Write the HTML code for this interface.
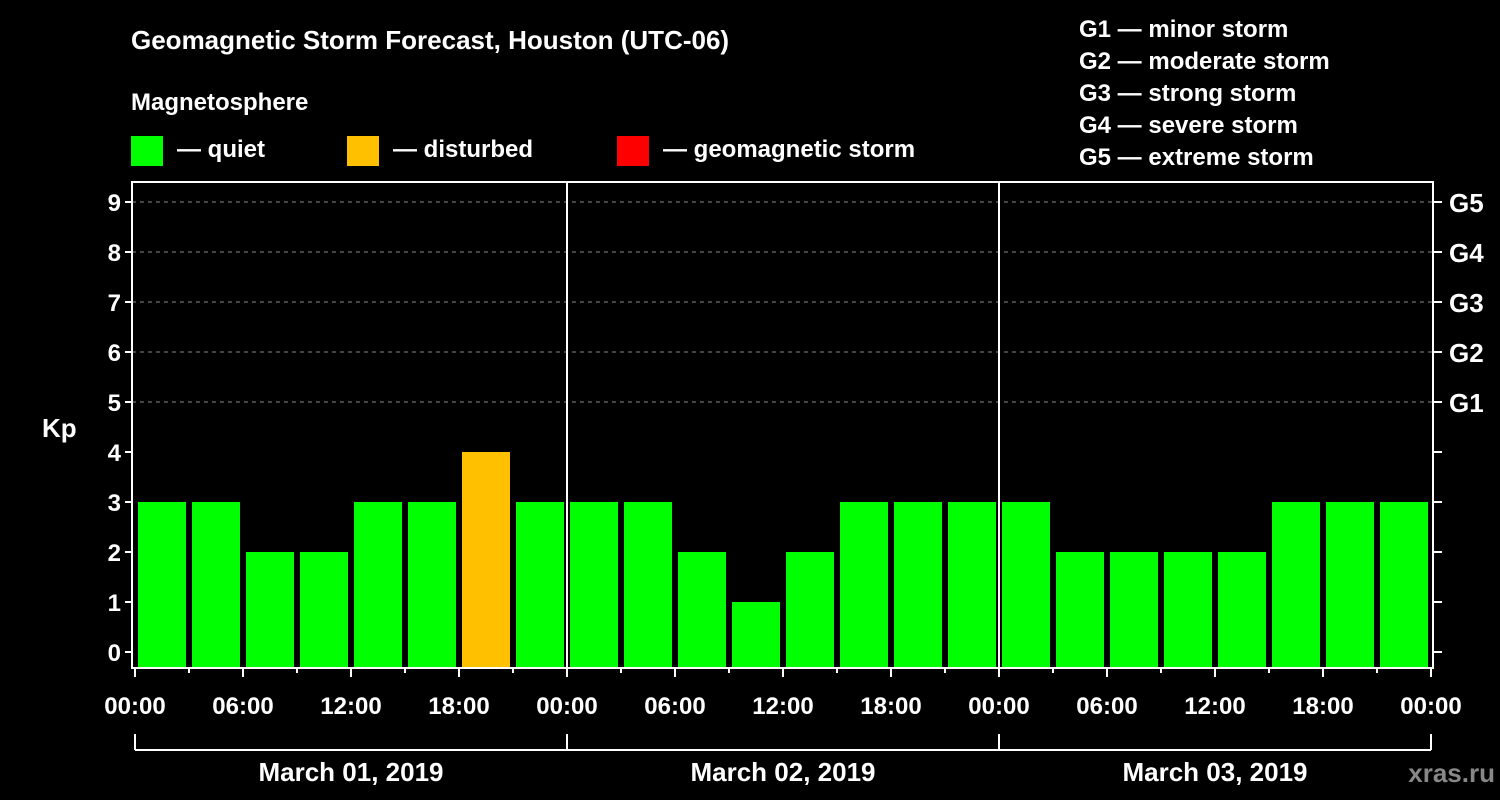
<!DOCTYPE html>
<html><head><meta charset="utf-8"><style>
body{margin:0;background:#000;width:1500px;height:800px;overflow:hidden}
svg{display:block;font-family:"Liberation Sans",Arial,sans-serif;font-weight:bold;fill:#fff}
</style></head><body>
<svg id="c" width="1500" height="800" viewBox="0 0 1500 800">
<rect width="1500" height="800" fill="#000"/>
<text x="131" y="49" font-size="26">Geomagnetic Storm Forecast, Houston (UTC-06)</text>
<text x="131" y="110" font-size="24">Magnetosphere</text>
<g><rect x="131" y="136" width="32" height="30" fill="#00ff00"/><text x="177" y="157" font-size="24">— quiet</text></g>
<g><rect x="347" y="136" width="32" height="30" fill="#ffc000"/><text x="393" y="157" font-size="24">— disturbed</text></g>
<g><rect x="617" y="136" width="32" height="30" fill="#ff0000"/><text x="663" y="157" font-size="24">— geomagnetic storm</text></g>
<g font-size="24">
<text x="1079" y="37">G1 — minor storm</text>
<text x="1079" y="69">G2 — moderate storm</text>
<text x="1079" y="101">G3 — strong storm</text>
<text x="1079" y="133">G4 — severe storm</text>
<text x="1079" y="165">G5 — extreme storm</text>
</g>
<text x="42" y="437" font-size="26">Kp</text>
<text x="1495" y="782" font-size="26" fill="#888" text-anchor="end" style="fill:#888">xras.ru</text>
<g id="plot"></g>
</svg>
<script>
const kpValues=[3,3,2,2,3,3,4,3, 3,3,2,1,2,3,3,3, 3,2,2,2,2,3,3,3];
const dayLabels=["March 01, 2019","March 02, 2019","March 03, 2019"];
const hourLabels=["00:00","06:00","12:00","18:00"];
const yTicks=[0,1,2,3,4,5,6,7,8,9];
const gLabels=["G1","G2","G3","G4","G5"];
const NS="http://www.w3.org/2000/svg";
const g=document.getElementById('plot');
const X0=135,SLOT=54,PL=132,PR=1433,PT=182,PB=668;
const xs=i=>X0+i*SLOT;
const ys=k=>652-50*k;
function mk(t,a,p){const e=document.createElementNS(NS,t);for(const k in a)e.setAttribute(k,a[k]);(p||g).appendChild(e);return e;}
// grid
yTicks.forEach(k=>{
 if(k>=5){const l=mk('line',{x1:PL,x2:PR,y1:ys(k),y2:ys(k),stroke:'#888','stroke-dasharray':'4,4','stroke-width':1});
 
 }
 mk('line',{x1:PL-7,x2:PL,y1:ys(k),y2:ys(k),stroke:'#fff','stroke-width':2});
 mk('line',{x1:PR,x2:PR+9,y1:ys(k),y2:ys(k),stroke:'#fff','stroke-width':2});
 const t=mk('text',{x:PL-11,y:ys(k)+9,'font-size':24,'text-anchor':'end'});t.textContent=k;
 
 
});
gLabels.forEach((s,i)=>{const t=mk('text',{x:1449,y:ys(5+i)+10,'font-size':26});t.textContent=s;
 
 });
// bars
kpValues.forEach((v,i)=>{
 const col=v>=5?'#ff0000':(v>=4?'#ffc000':'#00ff00');
 const r=mk('rect',{x:xs(i)+3,y:ys(v),width:48,height:PB-ys(v),fill:col});
 
 
});
// frame
mk('rect',{x:PL,y:PT,width:PR-PL,height:PB-PT,fill:'none',stroke:'#fff','stroke-width':2});
for(let d=1;d<dayLabels.length;d++)mk('line',{x1:xs(d*8),x2:xs(d*8),y1:PT,y2:PB,stroke:'#fff','stroke-width':2});
// x ticks
for(let i=0;i<=kpValues.length;i++){
 mk('line',{x1:xs(i),x2:xs(i),y1:PB,y2:PB+(i%2==0?9:5),stroke:'#fff','stroke-width':2});
 if(i%2==0){const t=mk('text',{x:xs(i),y:714,'font-size':24,'text-anchor':'middle'});t.textContent=hourLabels[(i/2)%4];
 
 }
}
// day brackets
mk('line',{x1:xs(0),x2:xs(kpValues.length),y1:750,y2:750,stroke:'#fff','stroke-width':2});
dayLabels.forEach((s,d)=>{
 mk('line',{x1:xs(d*8),x2:xs(d*8),y1:734,y2:750,stroke:'#fff','stroke-width':2});
 const t=mk('text',{x:xs(d*8+4),y:781,'font-size':26,'text-anchor':'middle'});t.textContent=s;
 
 
});
mk('line',{x1:xs(24),x2:xs(24),y1:734,y2:750,stroke:'#fff','stroke-width':2});
</script>
</body></html>
